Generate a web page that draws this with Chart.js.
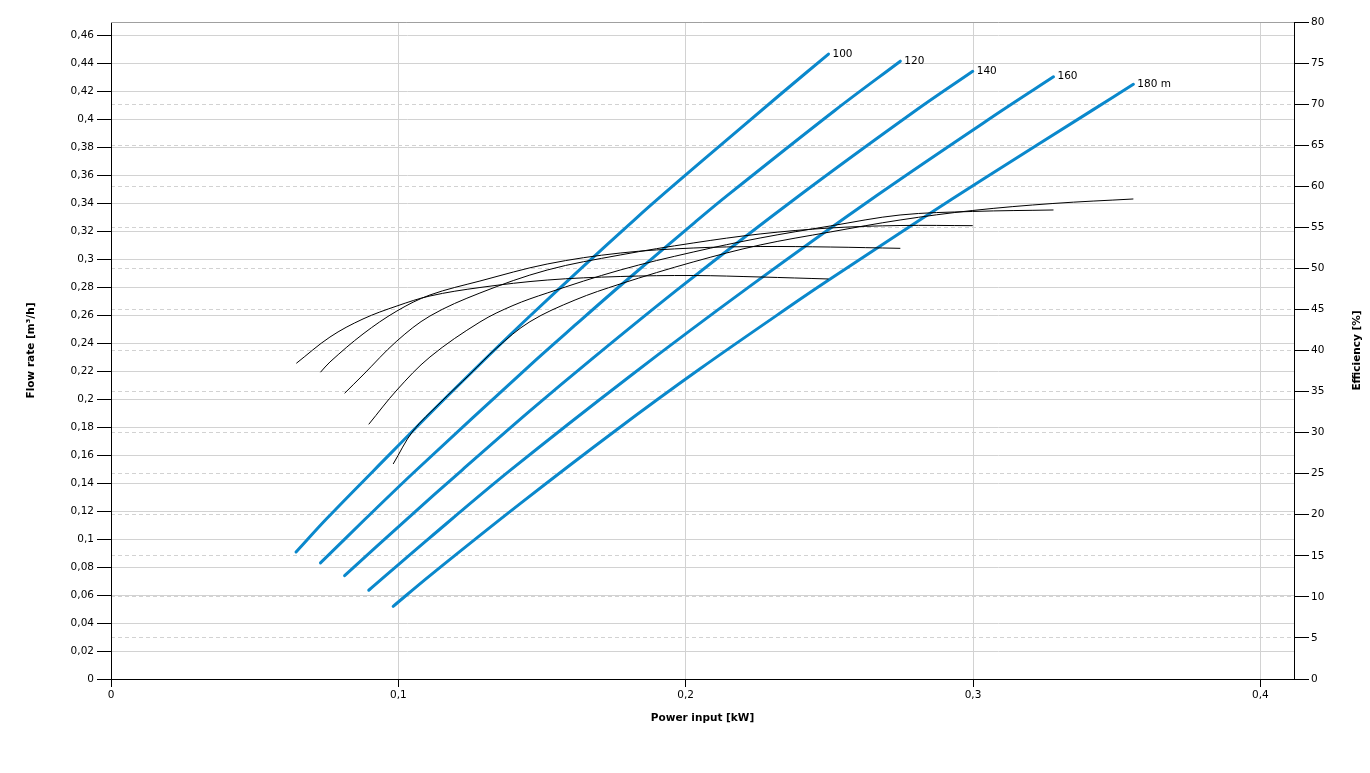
<!DOCTYPE html>
<html>
<head>
<meta charset="utf-8">
<title>Pump curves - flow rate and efficiency vs power input</title>
<script src="https://cdn.jsdelivr.net/npm/chart.js@4.4.1/dist/chart.umd.min.js"></script>
<style>
  html, body { margin: 0; padding: 0; background: #fff; }
  #wrap { width: 1370px; height: 773px; }
</style>
</head>
<body>
<div id="wrap"><canvas id="pumpChart" width="1370" height="773"></canvas></div>
<script>
// --- Data ---

const headLabels = ['100', '120', '140', '160', '180 m'];

// Flow rate [m³/h] against power input [kW], one pair of lists per head
const flowPower100 = [0.0644, 0.0751, 0.0913, 0.1180, 0.1458, 0.1834, 0.2050, 0.2329, 0.2497];
const flow100      = [0.0907, 0.1146, 0.1486, 0.2039, 0.2593, 0.3303, 0.3688, 0.4175, 0.4464];

const flowPower120 = [0.0729, 0.0884, 0.1062, 0.1458, 0.1621, 0.1772, 0.2033, 0.2143, 0.2520, 0.2747];
const flow120      = [0.0829, 0.1141, 0.1491, 0.2241, 0.2538, 0.2809, 0.3264, 0.3451, 0.4063, 0.4413];

const flowPower140 = [0.0813, 0.1029, 0.1221, 0.1458, 0.1673, 0.1992, 0.2398, 0.2798, 0.2999];
const flow140      = [0.0738, 0.1141, 0.1491, 0.1915, 0.2285, 0.2815, 0.3457, 0.4057, 0.4341];

const flowPower160 = [0.0897, 0.1110, 0.1389, 0.1806, 0.2230, 0.2665, 0.3094, 0.3280];
const flow160      = [0.0634, 0.1010, 0.1490, 0.2163, 0.2815, 0.3454, 0.4052, 0.4302];

const flowPower180 = [0.0982, 0.1110, 0.1424, 0.1754, 0.2050, 0.2398, 0.2491, 0.2816, 0.3036, 0.3413, 0.3558];
const flow180      = [0.0519, 0.0739, 0.1253, 0.1772, 0.2216, 0.2712, 0.2841, 0.3281, 0.3572, 0.4060, 0.4248];

// Efficiency [%] against power input [kW]
const effPower100 = [0.0645, 0.0762, 0.0877, 0.0995, 0.1110, 0.1284, 0.1518, 0.1772, 0.2026, 0.2259, 0.2497];
const eff100      = [38.44, 41.64, 43.84, 45.42, 46.64, 47.67, 48.58, 49.01, 49.13, 48.95, 48.71];

const effPower120 = [0.0729, 0.0762, 0.0877, 0.0995, 0.1110, 0.1284, 0.1518, 0.1772, 0.2026, 0.2259, 0.2503, 0.2747];
const eff120      = [37.35, 38.60, 42.01, 44.81, 46.76, 48.46, 50.53, 51.87, 52.48, 52.66, 52.60, 52.44];

const effPower140 = [0.0813, 0.0877, 0.0995, 0.1110, 0.1284, 0.1518, 0.1772, 0.2026, 0.2259, 0.2503, 0.2746, 0.2999];
const eff140      = [34.79, 37.02, 41.16, 44.20, 47.00, 49.80, 51.63, 53.09, 54.19, 54.92, 55.22, 55.20];

const effPower160 = [0.0897, 0.0995, 0.1110, 0.1284, 0.1399, 0.1518, 0.1772, 0.2026, 0.2259, 0.2503, 0.2746, 0.2999, 0.3280];
const eff160      = [31.01, 35.19, 39.21, 43.47, 45.48, 47.00, 49.80, 51.99, 53.70, 55.16, 56.50, 56.93, 57.11];

const effPower180 = [0.0982, 0.1051, 0.1145, 0.1250, 0.1342, 0.1458, 0.1615, 0.1772, 0.2026, 0.2259, 0.2503, 0.2746, 0.2999, 0.3278, 0.3558];
const eff180      = [26.18, 30.20, 33.61, 37.14, 40.30, 43.51, 46.15, 48.10, 50.78, 52.85, 54.43, 55.89, 57.05, 57.90, 58.45];

// Tick values
const powerTicks = [0, 0.1, 0.2, 0.3, 0.4];
const flowTicks = [0, 0.02, 0.04, 0.06, 0.08, 0.1, 0.12, 0.14, 0.16, 0.18, 0.2, 0.22, 0.24,
                   0.26, 0.28, 0.3, 0.32, 0.34, 0.36, 0.38, 0.4, 0.42, 0.44, 0.46];
const effTicks = [0, 5, 10, 15, 20, 25, 30, 35, 40, 45, 50, 55, 60, 65, 70, 75, 80];

const flowSeries = [
    { power: flowPower100, values: flow100 },
    { power: flowPower120, values: flow120 },
    { power: flowPower140, values: flow140 },
    { power: flowPower160, values: flow160 },
    { power: flowPower180, values: flow180 }
];
const effSeries = [
    { power: effPower100, values: eff100 },
    { power: effPower120, values: eff120 },
    { power: effPower140, values: eff140 },
    { power: effPower160, values: eff160 },
    { power: effPower180, values: eff180 }
];

// --- Helpers ---

function toPoints(xs, ys) {
    return xs.map((x, i) => ({ x: x, y: ys[i] }));
}

// decimal comma, as in the original
function fmtTick(value) {
    return String(Math.round(value * 1000) / 1000).replace('.', ',');
}

function fixedTicks(list) {
    return function(scale) {
        scale.ticks = list.map(v => ({ value: v }));
    };
}

const FONT = '"DejaVu Sans", Verdana, sans-serif';
const tickFont = { family: FONT, size: 10.5 };
const titleFont = { family: FONT, size: 10.5, weight: 'bold' };
const GRID = '#d2d2d2';

// --- Extra drawing: top frame, head labels, right axis title ---
const chartDecor = {
    id: 'chartDecor',
    afterDraw(chart) {
        const { ctx, chartArea, scales } = chart;
        ctx.save();

        ctx.strokeStyle = '#a0a0a0';
        ctx.lineWidth = 1;
        ctx.beginPath();
        ctx.moveTo(chartArea.left, chartArea.top + 0.5);
        ctx.lineTo(chartArea.right, chartArea.top + 0.5);
        ctx.stroke();

        ctx.font = '10.5px ' + FONT;
        ctx.fillStyle = '#000';
        ctx.textAlign = 'left';
        ctx.textBaseline = 'middle';
        flowSeries.forEach((s, i) => {
            const last = s.power.length - 1;
            const px = scales.x.getPixelForValue(s.power[last]);
            const py = scales.y.getPixelForValue(s.values[last]);
            ctx.fillText(headLabels[i], px + 4, py);
        });

        ctx.font = 'bold 10.5px ' + FONT;
        ctx.translate(chart.width - 13, (chartArea.top + chartArea.bottom) / 2);
        ctx.rotate(-Math.PI / 2);
        ctx.textAlign = 'center';
        ctx.fillText('Efficiency [%]', 0, 0);
        ctx.restore();
    }
};

// --- Chart ---
const datasets = [];
effSeries.forEach((s, i) => {
    datasets.push({
        label: 'Efficiency ' + headLabels[i],
        data: toPoints(s.power, s.values),
        yAxisID: 'y2',
        borderColor: '#000000',
        borderWidth: 1,
        pointRadius: 0,
        showLine: true,
        tension: 0.35,
        order: 0
    });
});
flowSeries.forEach((s, i) => {
    datasets.push({
        label: 'Flow rate ' + headLabels[i],
        data: toPoints(s.power, s.values),
        yAxisID: 'y',
        borderColor: '#0a88cc',
        borderWidth: 3,
        borderCapStyle: 'round',
        pointRadius: 0,
        showLine: true,
        tension: 0.35,
        order: 1
    });
});

new Chart(document.getElementById('pumpChart'), {
    type: 'scatter',
    data: { datasets: datasets },
    plugins: [chartDecor],
    options: {
        responsive: false,
        animation: false,
        devicePixelRatio: 1,
        layout: { padding: { top: 22, left: 0, right: 0, bottom: 0 } },
        plugins: {
            legend: { display: false },
            tooltip: { enabled: false }
        },
        scales: {
            x: {
                type: 'linear',
                min: 0,
                max: 0.4117,
                afterBuildTicks: fixedTicks(powerTicks),
                afterFit: (scale) => { scale.height = 94; },
                grid: { color: GRID, tickColor: '#000', tickLength: 8 },
                border: { color: '#000' },
                ticks: { font: tickFont, color: '#000', padding: 2, maxRotation: 0, autoSkip: false, callback: fmtTick },
                title: { display: true, text: 'Power input [kW]', font: titleFont, color: '#000', padding: { top: 0, bottom: 48 } }
            },
            y: {
                type: 'linear',
                position: 'left',
                min: 0,
                max: 0.4693,
                afterBuildTicks: fixedTicks(flowTicks),
                afterFit: (scale) => { scale.width = 111; },
                grid: { color: GRID, tickColor: '#000', tickLength: 14 },
                border: { color: '#000' },
                ticks: { font: tickFont, color: '#000', padding: 3, autoSkip: false, callback: fmtTick },
                title: { display: true, text: 'Flow rate [m³/h]', font: titleFont, color: '#000', padding: { top: 25, bottom: 0 } }
            },
            y2: {
                type: 'linear',
                position: 'right',
                min: 0,
                max: 80,
                afterBuildTicks: fixedTicks(effTicks),
                afterFit: (scale) => { scale.width = 76; },
                grid: { color: GRID, tickColor: '#000', tickLength: 15, tickBorderDash: [] },
                border: { color: '#000', dash: [4, 3] },
                ticks: { font: tickFont, color: '#000', padding: 2, autoSkip: false, callback: fmtTick }
            }
        }
    }
});
</script>
</body>
</html>
